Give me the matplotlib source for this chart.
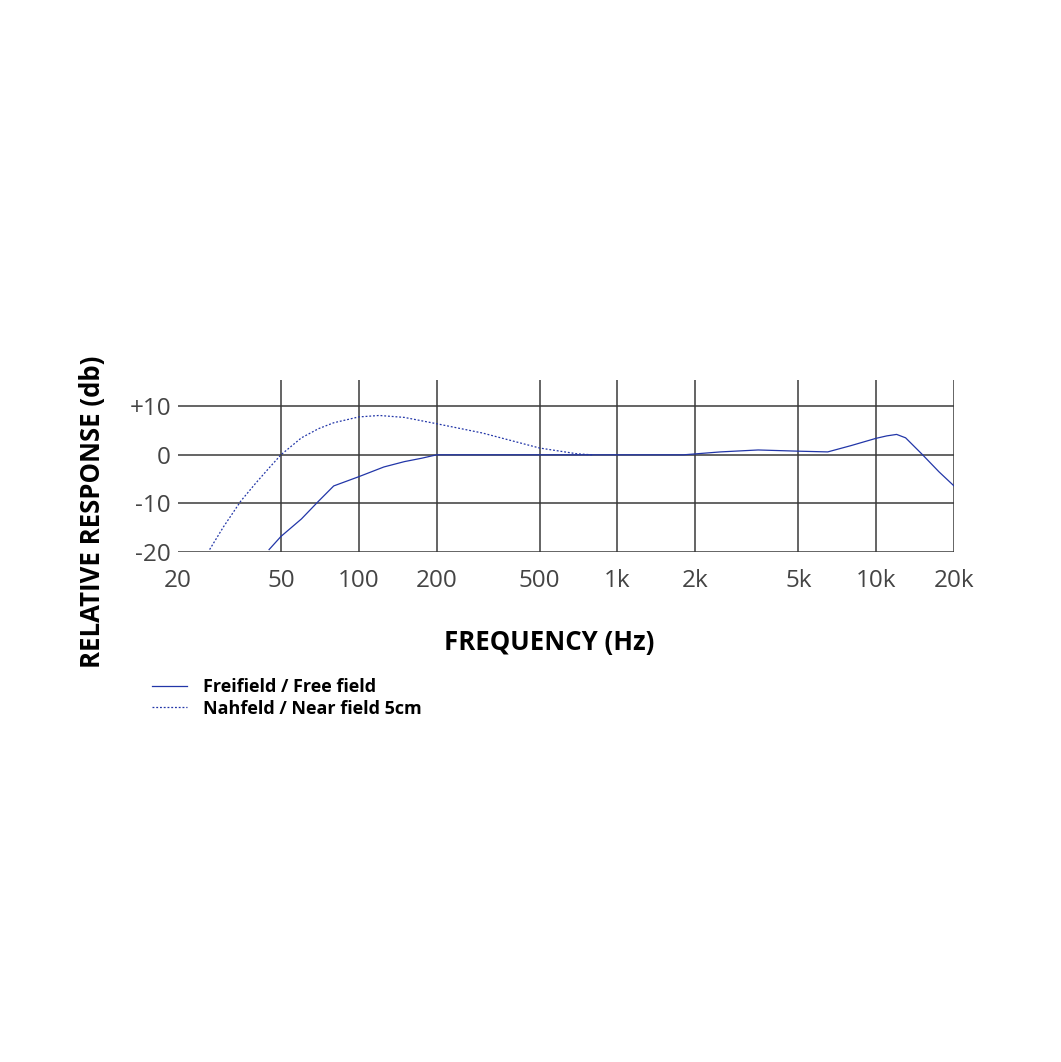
import matplotlib
matplotlib.use("Agg")
import matplotlib.pyplot as plt
from matplotlib.ticker import FixedLocator, NullLocator

plt.rcParams['font.family'] = ['Open Sans', 'DejaVu Sans']

# free field response
free_freq = [45, 50, 60, 70, 80, 100, 125, 150, 175, 200, 300, 500, 1000, 1800,
             2500, 3500, 5000, 6500, 8000, 10000, 11000, 12000, 13000, 15000, 17500, 20000]
free_db = [-19.5, -16.8, -13.2, -9.5, -6.4, -4.5, -2.5, -1.4, -0.7, 0, 0, 0, 0, 0,
           0.6, 1.0, 0.75, 0.6, 1.9, 3.4, 3.9, 4.2, 3.5, 0.2, -3.5, -6.4]

# near field 5cm
near_freq = [26.5, 30, 35, 40, 45, 50, 60, 70, 80, 100, 120, 150, 200, 300, 500, 700, 800]
near_db = [-19.5, -14.8, -9.5, -5.8, -2.7, 0, 3.5, 5.4, 6.6, 7.8, 8.1, 7.7, 6.4, 4.5, 1.4, 0.2, 0]

xticks = [20, 50, 100, 200, 500, 1000, 2000, 5000, 10000, 20000]
xlabels = ['20', '50', '100', '200', '500', '1k', '2k', '5k', '10k', '20k']
yticks = [10, 0, -10, -20]
ylabels = ['+10', '0', '-10', '-20']

blue = '#2236a8'
gridc = '#3a3a3a'

fig = plt.figure(figsize=(10.61, 10.62), dpi=100)
ax = fig.add_axes([178/1061, 1 - 552/1062, (954 - 178)/1061, (552 - 380)/1062])

# grid lines
for f in xticks[1:]:
    ax.axvline(f, color=gridc, lw=1.1, zorder=1)
for v in yticks:
    ax.axhline(v, color=gridc, lw=1.1, zorder=1)

l1, = ax.plot(free_freq, free_db, color=blue, lw=0.9, zorder=3)
l2, = ax.plot(near_freq, near_db, color=blue, lw=0.9, ls=(0, (1.5, 1.5)), zorder=3)

ax.set_xscale('log')
ax.set_xlim(20, 20000)
ax.set_ylim(-20, 15.4)
ax.xaxis.set_major_locator(FixedLocator(xticks))
ax.xaxis.set_minor_locator(NullLocator())
ax.set_xticklabels(xlabels)
ax.set_yticks(yticks)
ax.set_yticklabels(ylabels)
ax.tick_params(length=0, labelsize=17.5, labelcolor='#444444')
ax.tick_params(axis='x', pad=12)
ax.tick_params(axis='y', pad=5)
for s in ax.spines.values():
    s.set_visible(False)

ax.set_xlabel('FREQUENCY (Hz)', fontsize=18.5, fontweight='bold', labelpad=26, x=0.478)
fig.text(93/1061, 1 - 512/1062, 'RELATIVE RESPONSE (db)', rotation=90, fontsize=18.5,
         fontweight='bold', ha='center', va='center')

fig.legend([l1, l2], ['Freifield / Free field', 'Nahfeld / Near field 5cm'],
           loc='upper left', bbox_to_anchor=(152/1061, 1 - 678/1062), frameon=False,
           prop={'weight': 'bold', 'size': 13}, handlelength=1.95, handletextpad=0.85,
           labelspacing=0.2, borderaxespad=0, borderpad=0)

fig.savefig('out.png', dpi=100, facecolor='white')
